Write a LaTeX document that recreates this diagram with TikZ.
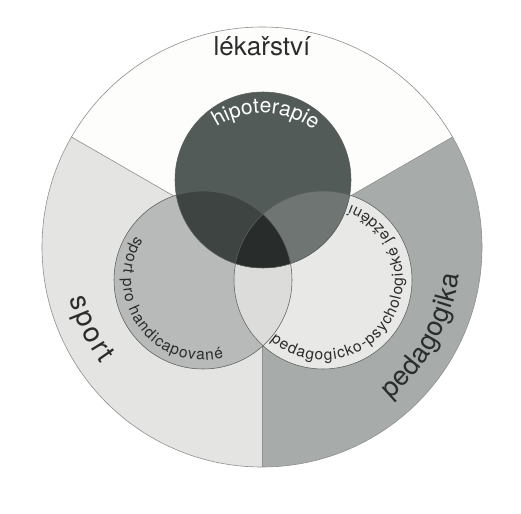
\documentclass[tikz,border=0pt]{standalone}
\usepackage{fontspec}
\setmainfont{TeX Gyre Heros}
\usetikzlibrary{decorations.text}
\definecolor{secT}{HTML}{FDFDFB}
\definecolor{secL}{HTML}{E4E4E2}
\definecolor{secR}{HTML}{A7ABA9}
\definecolor{circL}{HTML}{B7BAB8}
\definecolor{circR}{HTML}{E8E8E6}
\definecolor{lensLR}{HTML}{DCDDDB}
\definecolor{circT}{HTML}{535B59}
\definecolor{lensTL}{HTML}{3E4442}
\definecolor{lensTR}{HTML}{6F7573}
\definecolor{triple}{HTML}{282C2B}
\definecolor{ink}{HTML}{2B2D2C}
\definecolor{rim}{HTML}{8E908F}
\definecolor{cedge}{HTML}{5A5E5C}
\tikzset{
  rimline/.style={draw=rim, line width=0.6pt},
  circline/.style={draw=cedge, line width=0.55pt},
  curvtext/.style={decorate, decoration={text along path, text align={fit to path}, #1}},
  ctrtext/.style={decorate, decoration={text along path, text align=center, #1}}
}
\begin{document}
\begin{tikzpicture}[x=1pt,y=1pt]
\useasboundingbox (0,0) rectangle (521,-513);
\fill[white] (0,0) rectangle (521,-513);
\coordinate (C) at (262,-247);
\coordinate (T) at (263,-180);
\coordinate (L) at (203,-280);
\coordinate (R) at (323,-280);
\coordinate (H) at (263,-197);
% sectors
\fill[secT] (C) -- ([shift={(30:220)}]C) arc[start angle=30, end angle=150, radius=220] -- cycle;
\fill[secL] (C) -- ([shift={(150:220)}]C) arc[start angle=150, end angle=270, radius=220] -- cycle;
\fill[secR] (C) -- ([shift={(270:220)}]C) arc[start angle=270, end angle=390, radius=220] -- cycle;
\coordinate (b1) at ([shift={(30:220)}]C);
\coordinate (b2) at ([shift={(150:220)}]C);
\coordinate (b3) at ([shift={(270:220)}]C);
\draw[rimline] (C) -- (b1);
\draw[rimline] (C) -- (b2);
\draw[rimline] (C) -- (b3);
\draw[rimline] (C) circle[radius=220];
% circles
\fill[circL] (L) circle[radius=89];
\fill[circR] (R) circle[radius=89];
\begin{scope}
  \clip (L) circle[radius=89];
  \fill[lensLR] (R) circle[radius=89];
\end{scope}
\fill[circT] (T) circle[radius=88];
\begin{scope}
  \clip (T) circle[radius=88];
  \fill[lensTL] (L) circle[radius=89];
  \fill[lensTR] (R) circle[radius=89];
  \clip (L) circle[radius=89];
  \fill[triple] (R) circle[radius=89];
\end{scope}
\draw[circline] (L) circle[radius=89];
\draw[circline] (R) circle[radius=89];
\draw[circline] (T) circle[radius=88];
% labels
\node[anchor=base, text=ink, font=\fontsize{26}{26}\selectfont, inner sep=0pt] (lek) at (262,-56) {lékařství};
\path[ctrtext={text color=white, text={|\fontsize{21}{21}\selectfont|hipoterapie}}]
  ([shift={(140:84)}]H) arc[start angle=140, end angle=36, radius=84];
\path[curvtext={text color=ink, text={|\fontsize{15.5}{15.5}\selectfont|sport pro handicapované}}]
  ([shift={(147:80)}]L) arc[start angle=147, end angle=285, radius=80];
\path[curvtext={text color=ink, text={|\fontsize{15.5}{15.5}\selectfont|pedagogicko-psychologické ježdění}}]
  ([shift={(229:80)}]R) arc[start angle=229, end angle=430, radius=80];
\path[curvtext={text color=ink, text={|\fontsize{28}{28}\selectfont|sport}}]
  ([shift={(195:199)}]C) arc[start angle=195, end angle=216, radius=199];
\path[curvtext={text color=ink, text={|\fontsize{27}{27}\selectfont|pedagogika}}]
  ([shift={(310:199)}]C) arc[start angle=310, end angle=352, radius=199];
\end{tikzpicture}
\end{document}
